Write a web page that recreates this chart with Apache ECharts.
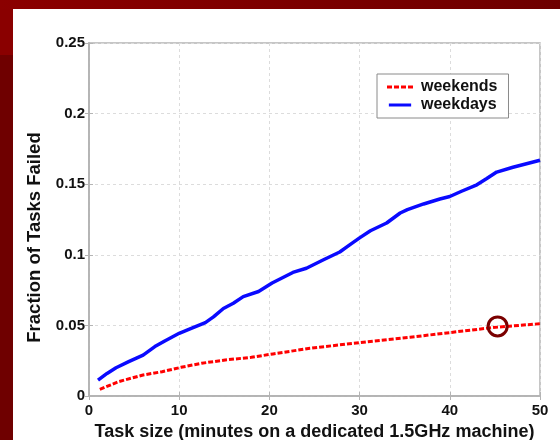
<!DOCTYPE html>
<html>
<head>
<meta charset="utf-8">
<script src="https://cdn.jsdelivr.net/npm/echarts@6/dist/echarts.min.js"></script>
<style>
html,body{margin:0;padding:0;width:560px;height:440px;overflow:hidden;}
#bg{position:absolute;left:0;top:0;width:560px;height:440px;
 background:
  linear-gradient(#ffffff,#ffffff) 13px 9px / 547px 431px no-repeat,
  linear-gradient(to right,#8b0000,#6e0000) 0 0 / 560px 9px no-repeat,
  linear-gradient(#8a0000,#8a0000) 0 0 / 13px 55px no-repeat,
  #6f0000;}
#chart{position:absolute;left:0;top:0;width:560px;height:440px;}
</style>
</head>
<body>
<div id="bg"></div>
<div id="chart"></div>
<script>
// Data
const seriesNames = ['weekends', 'weekdays'];
const weekendsData = [
  [1.2,0.0047],[3.25,0.0101],[6,0.0149],[8.1,0.0172],[10.2,0.0203],[12.5,0.0232],
  [15.1,0.0255],[18,0.0274],[20.4,0.0298],[24.5,0.0338],[30,0.0378],[35.6,0.0416],
  [40,0.0449],[44.8,0.0485],[50,0.0512]
];
const weekdaysData = [
  [1,0.0113],[2,0.016],[3,0.020],[4.4,0.0243],[6,0.029],[7.3,0.035],[8.4,0.039],
  [10,0.0444],[11.4,0.048],[12.9,0.052],[13.8,0.056],[14.9,0.062],[16,0.0657],
  [17.1,0.0704],[18.8,0.074],[20.3,0.080],[22.6,0.0875],[24.1,0.0905],[26,0.0965],
  [27.8,0.102],[28.9,0.107],[30,0.112],[31.2,0.117],[33,0.1225],[34.5,0.1296],
  [35.3,0.132],[37.1,0.136],[38.9,0.1395],[40,0.1413],[41.3,0.145],[43,0.1496],
  [44.1,0.154],[45.2,0.1586],[47,0.162],[48.5,0.1645],[50,0.167]
];
const highlightPoint = [[45.3, 0.0493]];
const xTicks = [0, 10, 20, 30, 40, 50];
const yTicks = [0, 0.05, 0.1, 0.15, 0.2, 0.25];
const xTitle = 'Task size (minutes on a dedicated 1.5GHz machine)';
const yTitle = 'Fraction of Tasks Failed';

const FONT = '"Liberation Sans", Arial, Helvetica, sans-serif';
const chart = echarts.init(document.getElementById('chart'), null, {renderer: 'canvas'});
const gridLine = {show: true, lineStyle: {color: '#dcdcdc', type: [3, 3], width: 1}};
const frameLine = {show: true, lineStyle: {color: '#b4b4b4', width: 1.5}};
const tick = {show: true, inside: true, length: 4, lineStyle: {color: '#b4b4b4'}};
const dashIcon = 'path://M0,0h5v3h-5z M7,0h5v3h-5z M14,0h5v3h-5z M21,0h5v3h-5z';
const solidIcon = 'path://M0,0h26v3.5h-26z';
chart.setOption({
  backgroundColor: 'transparent',
  animation: false,
  grid: {left: 89, right: 20, top: 43, bottom: 44, show: true, borderColor: '#b4b4b4', borderWidth: 1.5,
    outerBoundsMode: 'none', containLabel: false},
  legend: {
    data: [{name: seriesNames[0], icon: dashIcon}, {name: seriesNames[1], icon: solidIcon}],
    orient: 'vertical', left: 377, top: 74,
    backgroundColor: '#ffffff', borderColor: '#8a8a8a', borderWidth: 1,
    padding: [5, 11, 5, 10], itemWidth: 26, itemHeight: 3, itemGap: 2,
    textStyle: {fontFamily: FONT, fontWeight: 'bold', fontSize: 16, lineHeight: 16, color: '#111', padding: [0, 0, 0, 3]}
  },
  xAxis: [{
    type: 'value', min: xTicks[0], max: xTicks[xTicks.length - 1], interval: 10,
    name: xTitle, nameLocation: 'middle', nameGap: 24,
    nameTextStyle: {fontFamily: FONT, fontWeight: 'bold', fontSize: 18, color: '#111'},
    axisLine: frameLine, axisTick: tick,
    axisLabel: {fontFamily: FONT, fontWeight: 'bold', fontSize: 15, color: '#111', margin: 7},
    splitLine: gridLine
  }, {
    type: 'value', position: 'top', min: xTicks[0], max: xTicks[xTicks.length - 1], interval: 10,
    axisLine: frameLine, axisTick: tick,
    axisLabel: {show: false}, splitLine: {show: false}
  }],
  yAxis: [{
    type: 'value', min: yTicks[0], max: yTicks[yTicks.length - 1], interval: 0.05,
    name: yTitle, nameLocation: 'middle', nameGap: 32,
    nameTextStyle: {fontFamily: FONT, fontWeight: 'bold', fontSize: 18.5, color: '#111', padding: [0, 36, 0, 0]},
    axisLine: frameLine, axisTick: tick,
    axisLabel: {fontFamily: FONT, fontWeight: 'bold', fontSize: 15, color: '#111', margin: 4,
      formatter: v => String(+v.toFixed(2))},
    splitLine: gridLine
  }, {
    type: 'value', position: 'right', min: yTicks[0], max: yTicks[yTicks.length - 1], interval: 0.05,
    axisLine: frameLine, axisTick: tick,
    axisLabel: {show: false}, splitLine: {show: false}
  }],
  series: [{
    name: seriesNames[0], type: 'line', data: weekendsData, showSymbol: false, symbol: 'none',
    color: '#ff0000', lineStyle: {color: '#ff0000', width: 3, type: [5, 2]}, z: 3
  }, {
    name: seriesNames[1], type: 'line', data: weekdaysData, showSymbol: false, symbol: 'none',
    color: '#0a0aff', lineStyle: {color: '#0a0aff', width: 3.5}, z: 3
  }, {
    name: 'highlight', type: 'scatter', data: highlightPoint, symbol: 'circle', symbolSize: 19,
    itemStyle: {color: 'rgba(0,0,0,0)', borderColor: '#7a0000', borderWidth: 3, opacity: 1}, z: 5,
    silent: true
  }]
});
</script>
</body>
</html>
